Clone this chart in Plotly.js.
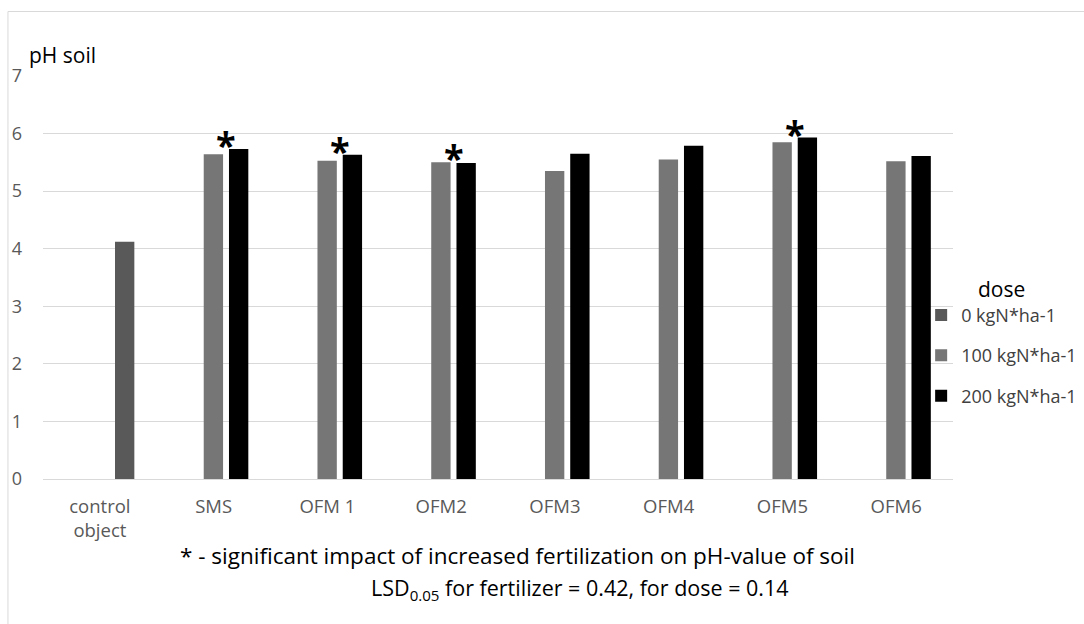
<!DOCTYPE html>
<html>
<head>
<meta charset="utf-8">
<script src="https://cdn.plot.ly/plotly-3.0.1.min.js"></script>
<style>html,body{margin:0;padding:0;background:#fff;}#chart{width:1084px;height:624px;}</style>
</head>
<body>
<div id="chart"></div>
<script>
// ---- data ----
const categories = ["control<br>object", "SMS", "OFM 1", "OFM2", "OFM3", "OFM4", "OFM5", "OFM6"];
const dose0   = [4.12, null, null, null, null, null, null, null];
const dose100 = [null, 5.64, 5.53, 5.50, 5.35, 5.55, 5.85, 5.52];
const dose200 = [null, 5.73, 5.63, 5.49, 5.65, 5.79, 5.93, 5.61];
const seriesNames = ["0 kgN*ha-1", "100 kgN*ha-1", "200 kgN*ha-1"];
const significant = ["SMS", "OFM 1", "OFM2", "OFM5"];
const yTicks = [0, 1, 2, 3, 4, 5, 6, 7];

const FONT = "'Open Sans', 'Noto Sans', sans-serif";
const BW = 0.17;

const traces = [
  {type: "bar", name: seriesNames[0], x: categories, y: dose0, width: BW, offset: 0.133,
   marker: {color: "#595959"}, legendgroup: "a"},
  {type: "bar", name: seriesNames[1], x: categories, y: dose100, width: BW, offset: -0.087,
   marker: {color: "#767676"}, legendgroup: "b"},
  {type: "bar", name: seriesNames[2], x: categories, y: dose200, width: BW, offset: 0.135,
   marker: {color: "#000000"}, legendgroup: "c"}
];

const annotations = significant.map(function (c) {
  const i = categories.indexOf(c);
  const v = Math.max(dose100[i] || 0, dose200[i] || 0);
  return {x: c, y: v, xref: "x", yref: "y", text: "*", showarrow: false,
          xanchor: "center", yanchor: "bottom", xshift: 12.5, yshift: -22,
          font: {family: FONT, size: 36, color: "#000", weight: "bold"}};
});
annotations.push({xref: "paper", yref: "paper", x: -0.018, y: 1.012, xanchor: "left", yanchor: "bottom",
  text: "pH soil", showarrow: false, font: {family: FONT, size: 21, color: "#000"}});
annotations.push({xref: "paper", yref: "paper", x: 0.521, y: -0.19, xanchor: "center", yanchor: "middle",
  text: "* - significant impact of increased fertilization on pH-value of soil", showarrow: false,
  font: {family: FONT, size: 22.5, color: "#000"}});
annotations.push({xref: "paper", yref: "paper", x: 0.59, y: -0.272, xanchor: "center", yanchor: "middle",
  text: "LSD<sub>0.05</sub> for fertilizer = 0.42, for dose = 0.14", showarrow: false,
  font: {family: FONT, size: 21.5, color: "#000"}});

const layout = {
  width: 1084, height: 624,
  margin: {l: 43, r: 131, t: 76, b: 145, pad: 0, autoexpand: false},
  paper_bgcolor: "#fff", plot_bgcolor: "#fff",
  barmode: "overlay",
  showlegend: true,
  font: {family: FONT, color: "#595959"},
  xaxis: {type: "category", showgrid: false, showline: true, linecolor: "#d9d9d9", linewidth: 1,
          ticks: "", tickfont: {family: FONT, size: 18.5, color: "#595959"}, ticklabelstandoff: 11,
          zeroline: false, fixedrange: true},
  yaxis: {range: [0, 7], tickvals: yTicks, showgrid: true, gridcolor: "#d9d9d9", gridwidth: 1,
          zeroline: false, showline: false, ticks: "", ticklabelstandoff: 20,
          tickfont: {family: FONT, size: 18, color: "#595959"}, fixedrange: true},
  legend: {x: 0.965, xanchor: "left", y: 0.52, yanchor: "top", traceorder: "grouped",
           tracegroupgap: 14, bgcolor: "rgba(0,0,0,0)",
           font: {family: FONT, size: 18, color: "#404040"},
           title: {text: "dose", side: "top center", font: {family: FONT, size: 21, color: "#000"}}},
  annotations: annotations,
  shapes: [{type: "rect", xref: "paper", yref: "paper", x0: -0.0385, x1: 1.2, y0: -0.5, y1: 1.16,
            line: {color: "#d9d9d9", width: 1}, fillcolor: "rgba(0,0,0,0)", layer: "below"}]
};

Plotly.newPlot("chart", traces, layout, {displayModeBar: false, staticPlot: true});
</script>
</body>
</html>
